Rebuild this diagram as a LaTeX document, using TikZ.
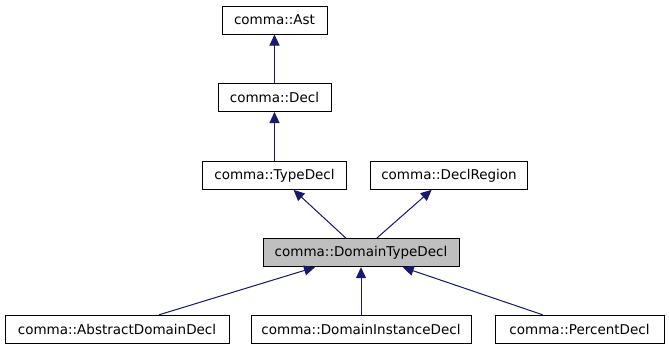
\documentclass[tikz,border=0pt]{standalone}
\usepackage{fontspec}
\setmainfont{DejaVu Sans}
\usetikzlibrary{arrows.meta}
\definecolor{edgeblue}{HTML}{191970}
\definecolor{hilite}{HTML}{BFBFBF}
\begin{document}
\begin{tikzpicture}[x=1pt,y=-1pt,
  cls/.style={draw=black,line width=1pt,fill=white,minimum height=28pt,inner sep=0pt,
    font=\fontsize{13.5}{15}\selectfont,text=black},
  cur/.style={cls,fill=hilite},
  inh/.style={draw=edgeblue,line width=1pt,-{Triangle[length=11pt,width=10pt]},fill=edgeblue}]
\useasboundingbox (0,0) rectangle (669,349);
\node[cls,minimum width=105pt] (ast) at (274.5,20) {comma::Ast};
\node[cls,minimum width=113pt] (decl) at (274.5,97.5) {comma::Decl};
\node[cls,minimum width=144pt] (tdecl) at (274.5,175.3) {comma::TypeDecl};
\node[cls,minimum width=157pt] (dreg) at (449,175.3) {comma::DeclRegion};
\node[cur,minimum width=196pt] (dtd) at (361,252.7) {comma::DomainTypeDecl};
\node[cls,minimum width=224pt] (abs) at (117,329.3) {comma::AbstractDomainDecl};
\node[cls,minimum width=220pt] (inst) at (361,329.3) {comma::DomainInstanceDecl};
\node[cls,minimum width=169pt] (pct) at (579.5,329.3) {comma::PercentDecl};
\draw[inh] (decl.north) -- (ast.south);
\draw[inh] (tdecl.north) -- (decl.south);
\draw[inh] ([xshift=-15pt]dtd.north) -- ([xshift=19pt]tdecl.south);
\draw[inh] ([xshift=15.7pt]dtd.north) -- ([xshift=-17.3pt]dreg.south);
\draw[inh] ([xshift=42pt]abs.north) -- ([xshift=-46pt]dtd.south);
\draw[inh] (inst.north) -- (dtd.south);
\draw[inh] ([xshift=-36.8pt]pct.north) -- ([xshift=41.7pt]dtd.south);
\end{tikzpicture}
\end{document}
